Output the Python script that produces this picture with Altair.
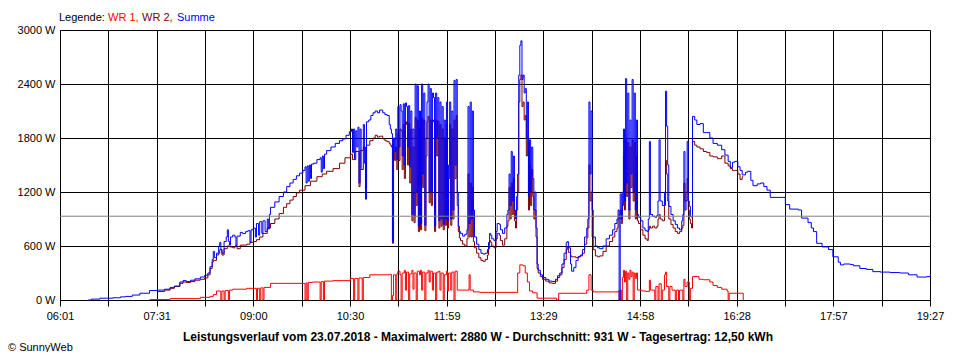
import altair as alt
import pandas as pd

FONT = "Liberation Sans"

# ---------------- data ----------------
series_names = ["WR 1", "WR 2", "Summe"]
series_colors = ["#ff0000", "#800000", "#0000ff"]

summe_points = [
    ("06:27", 0), ("06:30", 10), ("06:38", 20), ("06:50", 25), ("06:57", 35), ("07:02", 40),
    ("07:08", 55), ("07:15", 75), ("07:24", 105), ("07:31", 110), ("07:38", 120), ("07:43", 140),
    ("07:47", 155), ("07:52", 200), ("07:55", 215), ("07:58", 205), ("08:02", 220), ("08:06", 235),
    ("08:11", 255), ("08:15", 275), ("08:18", 300), ("08:20", 370), ("08:22", 450), ("08:23", 540),
    ("08:24", 470), ("08:26", 520), ("08:28", 600), ("08:29", 640), ("08:30", 560), ("08:31", 520),
    ("08:33", 650), ("08:35", 700), ("08:36", 780), ("08:37", 650), ("08:38", 610), ("08:39", 700),
    ("08:41", 720), ("08:43", 700), ("08:44", 600), ("08:45", 710), ("08:48", 750), ("08:50", 740),
    ("08:53", 760), ("08:55", 770), ("08:57", 640), ("08:58", 780), ("09:00", 800), ("09:02", 700),
    ("09:03", 850), ("09:05", 720), ("09:06", 870), ("09:08", 740), ("09:09", 880), ("09:11", 760),
    ("09:13", 900), ("09:14", 790), ("09:15", 950), ("09:16", 1030), ("09:20", 1090), ("09:24", 1150),
    ("09:28", 1200), ("09:31", 1260), ("09:34", 1300), ("09:37", 1340), ("09:40", 1380), ("09:43", 1410),
    ("09:46", 1440), ("09:48", 1480), ("09:49", 1300), ("09:50", 1490), ("09:51", 1320), ("09:52", 1500),
    ("09:53", 1350), ("09:54", 1510), ("09:56", 1520), ("09:59", 1560), ("10:02", 1580), ("10:03", 1420),
    ("10:04", 1600), ("10:05", 1460), ("10:06", 1620), ("10:08", 1660), ("10:12", 1700), ("10:16", 1740),
    ("10:20", 1770), ("10:23", 1790), ("10:26", 1830), ("10:29", 1870), ("10:31", 1900), ("10:32", 1640),
    ("10:33", 1900), ("10:34", 1560), ("10:35", 1880), ("10:36", 1700), ("10:37", 1920), ("10:38", 1300),
    ("10:39", 1900), ("10:40", 1450), ("10:42", 1950), ("10:43", 1520), ("10:44", 1120), ("10:45", 1980),
    ("10:47", 2000), ("10:49", 2050), ("10:51", 2080), ("10:53", 2100), ("10:55", 2080), ("10:57", 2110),
    ("11:00", 2080), ("11:02", 2060), ("11:04", 2050), ("11:06", 1950), ("11:07", 1900), ("11:08", 1850),
    ("11:09", 650), ("11:10", 1800), ("11:11", 1650), ("11:12", 1900), ("11:13", 1560), ("11:14", 2150),
    ("11:15", 1700), ("11:16", 2170), ("11:17", 2100), ("11:18", 1600), ("11:19", 2180), ("11:20", 1500),
    ("11:21", 2190), ("11:22", 2150), ("11:23", 1700), ("11:24", 2160), ("11:25", 1480), ("11:26", 2100),
    ("11:27", 950), ("11:28", 1900), ("11:29", 930), ("11:30", 2400), ("11:31", 1200), ("11:32", 2380),
    ("11:33", 820), ("11:34", 2100), ("11:35", 850), ("11:36", 2400), ("11:37", 1400), ("11:38", 2300),
    ("11:39", 830), ("11:40", 1800), ("11:41", 2200), ("11:42", 2400), ("11:43", 1200), ("11:44", 2350),
    ("11:45", 1190), ("11:46", 2300), ("11:47", 2250), ("11:48", 820), ("11:49", 2300), ("11:50", 1800),
    ("11:51", 2250), ("11:52", 880), ("11:53", 2200), ("11:54", 900), ("11:55", 2150), ("11:56", 840),
    ("11:57", 2000), ("11:58", 900), ("11:59", 2200), ("12:00", 880), ("12:01", 1500), ("12:02", 2200),
    ("12:03", 900), ("12:04", 2100), ("12:05", 1000), ("12:06", 2440), ("12:07", 1500), ("12:08", 2450),
    ("12:09", 1200), ("12:10", 820), ("12:11", 760), ("12:12", 740), ("12:14", 710), ("12:16", 730),
    ("12:18", 780), ("12:19", 2150), ("12:20", 850), ("12:21", 2200), ("12:22", 900), ("12:23", 2100),
    ("12:24", 1000), ("12:25", 700), ("12:27", 620), ("12:29", 560), ("12:31", 520), ("12:33", 510),
    ("12:35", 520), ("12:37", 560), ("12:38", 640), ("12:39", 740), ("12:40", 720), ("12:41", 680),
    ("12:43", 660), ("12:45", 760), ("12:46", 850), ("12:48", 840), ("12:49", 780), ("12:51", 740),
    ("12:53", 800), ("12:55", 950), ("12:56", 1000), ("12:57", 1400), ("12:58", 1050), ("12:59", 1650),
    ("13:00", 1100), ("13:01", 1600), ("13:02", 1000), ("13:03", 900), ("13:04", 1150), ("13:05", 1400),
    ("13:06", 2500), ("13:07", 2830), ("13:08", 2880), ("13:09", 2450), ("13:10", 2500), ("13:11", 2300),
    ("13:12", 2350), ("13:13", 1800), ("13:14", 2200), ("13:15", 1150), ("13:16", 1780), ("13:17", 1200),
    ("13:18", 1700), ("13:19", 1350), ("13:20", 1000), ("13:21", 1200), ("13:22", 800), ("13:23", 400),
    ("13:24", 330), ("13:26", 280), ("13:28", 250), ("13:31", 230), ("13:34", 210), ("13:37", 205),
    ("13:40", 230), ("13:42", 270), ("13:44", 300), ("13:46", 400), ("13:48", 520), ("13:50", 640),
    ("13:51", 650), ("13:52", 580), ("13:54", 400), ("13:55", 320), ("13:57", 360), ("13:59", 440),
    ("14:01", 480), ("14:03", 500), ("14:05", 560), ("14:07", 700), ("14:09", 800), ("14:10", 900),
    ("14:11", 2200), ("14:12", 1400), ("14:13", 2100), ("14:14", 1000), ("14:15", 700), ("14:17", 600),
    ("14:19", 580), ("14:21", 570), ("14:24", 600), ("14:27", 680), ("14:30", 720), ("14:33", 780),
    ("14:35", 850), ("14:37", 900), ("14:38", 1000), ("14:39", 0), ("14:40", 1180), ("14:41", 900),
    ("14:42", 1200), ("14:43", 1900), ("14:44", 1100), ("14:45", 2460), ("14:46", 1300), ("14:47", 2300),
    ("14:48", 1000), ("14:49", 2000), ("14:50", 1400), ("14:51", 2450), ("14:52", 1200), ("14:53", 2300),
    ("14:54", 1000), ("14:55", 2000), ("14:56", 950), ("14:57", 920), ("14:59", 880), ("15:01", 800),
    ("15:03", 770), ("15:05", 760), ("15:06", 900), ("15:07", 1760), ("15:08", 950), ("15:10", 930),
    ("15:12", 920), ("15:14", 940), ("15:15", 1100), ("15:16", 1780), ("15:17", 1100), ("15:19", 1050),
    ("15:21", 1200), ("15:22", 2320), ("15:23", 1930), ("15:24", 1500), ("15:25", 1040), ("15:27", 950),
    ("15:29", 880), ("15:31", 840), ("15:33", 800), ("15:35", 780), ("15:37", 880), ("15:38", 950),
    ("15:39", 1650), ("15:40", 1000), ("15:41", 1100), ("15:42", 1760), ("15:43", 1100), ("15:44", 1040),
    ("15:45", 930), ("15:46", 920), ("15:47", 2040), ("15:49", 2000), ("15:51", 1950), ("15:54", 1960),
    ("15:57", 1860), ("16:00", 1860), ("16:03", 1800), ("16:06", 1740), ("16:10", 1720), ("16:14", 1670),
    ("16:17", 1610), ("16:20", 1540), ("16:22", 1470), ("16:24", 1530), ("16:26", 1540), ("16:29", 1480),
    ("16:31", 1440), ("16:33", 1390), ("16:36", 1420), ("16:38", 1430), ("16:41", 1330), ("16:43", 1270),
    ("16:47", 1290), ("16:50", 1300), ("16:53", 1260), ("16:56", 1220), ("16:59", 1140), ("17:08", 1140),
    ("17:13", 1060), ("17:17", 1010), ("17:25", 1000), ("17:28", 910), ("17:34", 860), ("17:37", 800),
    ("17:39", 760), ("17:42", 630), ("17:47", 590), ("17:53", 560), ("17:57", 480), ("18:02", 420),
    ("18:04", 390), ("18:07", 400), ("18:13", 395), ("18:16", 380), ("18:22", 350), ("18:28", 340),
    ("18:34", 315), ("18:41", 310), ("18:50", 305), ("18:59", 300), ("19:07", 280), ("19:15", 255),
    ("19:24", 260), ("19:27", 265),
]

wr2_points = [
    ("07:31", 95), ("07:38", 110), ("07:43", 130), ("07:47", 150), ("07:52", 185), ("07:55", 200),
    ("07:58", 195), ("08:02", 205), ("08:06", 220), ("08:11", 230), ("08:15", 245), ("08:18", 280),
    ("08:20", 350), ("08:22", 420), ("08:23", 440), ("08:26", 500), ("08:28", 520), ("08:29", 560),
    ("08:31", 500), ("08:33", 570), ("08:36", 600), ("08:38", 590), ("08:41", 580), ("08:43", 600),
    ("08:45", 570), ("08:48", 610), ("08:54", 620), ("08:57", 640), ("09:00", 650), ("09:03", 670),
    ("09:06", 700), ("09:09", 740), ("09:13", 800), ("09:16", 850), ("09:20", 900), ("09:24", 960),
    ("09:28", 1030), ("09:31", 1070), ("09:34", 1110), ("09:37", 1150), ("09:40", 1190), ("09:43", 1220),
    ("09:48", 1270), ("09:53", 1320), ("09:59", 1370), ("10:04", 1400), ("10:08", 1430), ("10:14", 1460),
    ("10:20", 1520), ("10:25", 1580), ("10:30", 1620), ("10:32", 1560), ("10:34", 1650), ("10:38", 1260),
    ("10:39", 1660), ("10:42", 1700), ("10:44", 1240), ("10:45", 1720), ("10:48", 1770), ("10:51", 1800),
    ("10:53", 1830), ("10:55", 1810), ("10:57", 1820), ("11:00", 1790), ("11:02", 1770), ("11:04", 1760),
    ("11:06", 1740), ("11:07", 1720), ("11:08", 1700), ("11:09", 630), ("11:10", 1650), ("11:11", 1550),
    ("11:12", 1700), ("11:13", 1450), ("11:14", 1850), ("11:15", 1550), ("11:16", 1900), ("11:17", 1880),
    ("11:18", 1450), ("11:19", 1950), ("11:20", 1350), ("11:21", 1980), ("11:22", 1950), ("11:23", 1500),
    ("11:24", 1960), ("11:25", 1300), ("11:26", 1900), ("11:27", 880), ("11:28", 1700), ("11:29", 860),
    ("11:30", 2030), ("11:31", 1050), ("11:32", 2000), ("11:33", 760), ("11:34", 1900), ("11:35", 780),
    ("11:36", 2020), ("11:37", 1250), ("11:38", 2000), ("11:39", 770), ("11:40", 1600), ("11:41", 1980),
    ("11:42", 2040), ("11:43", 1080), ("11:44", 2000), ("11:45", 1050), ("11:46", 2000), ("11:47", 1980),
    ("11:48", 760), ("11:49", 2000), ("11:50", 1600), ("11:51", 1990), ("11:52", 800), ("11:53", 1950),
    ("11:54", 820), ("11:55", 1900), ("11:56", 780), ("11:57", 1800), ("11:58", 830), ("11:59", 1950),
    ("12:00", 800), ("12:01", 1350), ("12:02", 1950), ("12:03", 830), ("12:04", 1900), ("12:05", 900),
    ("12:06", 2000), ("12:07", 1350), ("12:08", 2050), ("12:09", 1050), ("12:10", 760), ("12:11", 690),
    ("12:12", 660), ("12:14", 620), ("12:16", 600), ("12:18", 680), ("12:19", 1400), ("12:20", 700),
    ("12:21", 1300), ("12:22", 700), ("12:23", 1250), ("12:24", 650), ("12:25", 580), ("12:27", 520),
    ("12:29", 470), ("12:31", 440), ("12:33", 430), ("12:35", 450), ("12:37", 500), ("12:38", 570),
    ("12:39", 660), ("12:40", 640), ("12:41", 600), ("12:43", 580), ("12:45", 680), ("12:46", 740),
    ("12:48", 720), ("12:49", 660), ("12:51", 610), ("12:53", 680), ("12:55", 820), ("12:56", 880),
    ("12:57", 1250), ("12:58", 900), ("12:59", 1300), ("13:00", 950), ("13:01", 1350), ("13:02", 880),
    ("13:03", 800), ("13:04", 1000), ("13:05", 1200), ("13:06", 2200), ("13:07", 2450), ("13:08", 2500),
    ("13:09", 2150), ("13:10", 2200), ("13:11", 2000), ("13:12", 2050), ("13:13", 1600), ("13:14", 1800),
    ("13:15", 1000), ("13:16", 1500), ("13:17", 1050), ("13:18", 1450), ("13:19", 1150), ("13:20", 900),
    ("13:21", 1000), ("13:22", 700), ("13:23", 350), ("13:24", 300), ("13:26", 260), ("13:28", 230),
    ("13:31", 210), ("13:34", 190), ("13:37", 185), ("13:40", 210), ("13:42", 250), ("13:44", 280),
    ("13:46", 360), ("13:48", 450), ("13:50", 560), ("13:51", 590), ("13:52", 530), ("13:54", 490),
    ("13:55", 480), ("13:57", 480), ("13:59", 470), ("14:01", 480), ("14:03", 490), ("14:05", 520),
    ("14:07", 620), ("14:09", 690), ("14:10", 800), ("14:11", 1500), ("14:12", 1100), ("14:13", 1200),
    ("14:14", 700), ("14:15", 560), ("14:17", 490), ("14:19", 480), ("14:21", 490), ("14:24", 540),
    ("14:27", 600), ("14:30", 650), ("14:33", 700), ("14:35", 760), ("14:37", 800), ("14:38", 900),
    ("14:39", 950), ("14:40", 1000), ("14:41", 850), ("14:42", 1050), ("14:43", 1600), ("14:44", 1000),
    ("14:45", 1780), ("14:46", 1150), ("14:47", 1750), ("14:48", 900), ("14:49", 1700), ("14:50", 1250),
    ("14:51", 1780), ("14:52", 1100), ("14:53", 1750), ("14:54", 900), ("14:55", 1600), ("14:56", 880),
    ("14:57", 850), ("14:59", 780), ("15:01", 720), ("15:03", 680), ("15:05", 660), ("15:06", 780),
    ("15:07", 820), ("15:08", 800), ("15:10", 820), ("15:12", 800), ("15:14", 820), ("15:15", 900),
    ("15:16", 950), ("15:17", 900), ("15:19", 880), ("15:21", 1050), ("15:22", 1550), ("15:23", 1400),
    ("15:24", 1100), ("15:25", 900), ("15:27", 840), ("15:29", 800), ("15:31", 760), ("15:33", 740),
    ("15:35", 760), ("15:37", 800), ("15:38", 830), ("15:39", 1300), ("15:40", 1100), ("15:41", 1200),
    ("15:42", 1350), ("15:43", 1000), ("15:44", 900), ("15:45", 850), ("15:46", 800), ("15:47", 1760),
    ("15:49", 1720), ("15:51", 1700), ("15:54", 1680), ("15:57", 1650), ("16:00", 1640), ("16:03", 1600),
    ("16:06", 1590), ("16:10", 1570), ("16:14", 1600), ("16:17", 1520), ("16:20", 1490), ("16:22", 1460),
    ("16:24", 1440), ("16:26", 1440), ("16:29", 1400), ("16:31", 1340), ("16:33", 1370), ("16:34", 1370),
]

wr1_points = [
    ("07:24", 5), ("07:43", 15), ("08:11", 30), ("08:20", 40), ("08:23", 60), ("08:26", 100),
    ("08:30", 0), ("08:31", 100), ("08:33", 0), ("08:34", 105), ("08:37", 0), ("08:38", 110),
    ("08:41", 120), ("08:54", 130), ("09:03", 0), ("09:04", 130), ("09:06", 0), ("09:07", 135),
    ("09:09", 0), ("09:10", 140), ("09:16", 185), ("09:48", 0), ("09:49", 190), ("09:50", 0),
    ("09:51", 195), ("09:55", 200), ("10:02", 0), ("10:03", 205), ("10:05", 0), ("10:06", 210),
    ("10:14", 215), ("10:30", 240), ("10:33", 0), ("10:34", 240), ("10:37", 0), ("10:38", 245),
    ("10:41", 0), ("10:42", 250), ("10:48", 280), ("11:06", 285), ("11:08", 0), ("11:09", 50),
    ("11:10", 280), ("11:12", 0), ("11:13", 290), ("11:14", 320), ("11:16", 280), ("11:17", 0),
    ("11:18", 300), ("11:20", 330), ("11:21", 110), ("11:22", 310), ("11:24", 0), ("11:25", 290),
    ("11:27", 330), ("11:28", 120), ("11:29", 300), ("11:31", 0), ("11:32", 320), ("11:34", 280),
    ("11:35", 330), ("11:36", 110), ("11:37", 310), ("11:39", 0), ("11:40", 300), ("11:42", 330),
    ("11:43", 200), ("11:44", 320), ("11:46", 110), ("11:47", 300), ("11:49", 0), ("11:50", 310),
    ("11:52", 320), ("11:53", 110), ("11:54", 300), ("11:56", 0), ("11:57", 280), ("11:59", 320),
    ("12:00", 100), ("12:01", 300), ("12:03", 110), ("12:04", 310), ("12:06", 0), ("12:07", 320),
    ("12:09", 110), ("12:20", 280), ("12:21", 110), ("12:24", 90), ("12:30", 85), ("13:04", 80),
    ("13:05", 300), ("13:07", 390), ("13:10", 380), ("13:12", 300), ("13:14", 200), ("13:16", 100),
    ("13:19", 80), ("13:23", 20), ("13:41", 0), ("13:43", 75), ("14:09", 110), ("14:11", 280),
    ("14:13", 110), ("14:15", 90), ("14:38", 100), ("14:39", 0), ("14:40", 110), ("14:41", 0),
    ("14:42", 250), ("14:43", 330), ("14:44", 200), ("14:45", 320), ("14:46", 0), ("14:47", 300),
    ("14:48", 230), ("14:49", 330), ("14:50", 260), ("14:51", 310), ("14:52", 0), ("14:53", 300),
    ("14:54", 240), ("14:55", 300), ("14:56", 110), ("15:00", 100), ("15:04", 95), ("15:07", 220),
    ("15:08", 110), ("15:12", 0), ("15:13", 150), ("15:15", 0), ("15:16", 180), ("15:18", 0),
    ("15:19", 110), ("15:21", 280), ("15:22", 310), ("15:23", 150), ("15:25", 0), ("15:26", 150),
    ("15:28", 110), ("15:31", 0), ("15:32", 110), ("15:34", 0), ("15:35", 110), ("15:38", 0),
    ("15:39", 230), ("15:40", 150), ("15:42", 200), ("15:44", 0), ("15:45", 130), ("15:47", 260),
    ("15:53", 230), ("15:57", 225), ("16:03", 200), ("16:06", 160), ("16:10", 140), ("16:14", 120),
    ("16:19", 100), ("16:20", 0), ("16:21", 75), ("16:33", 75), ("16:34", 0),
]

average_w = 931
y_ticks = [0, 600, 1200, 1800, 2400, 3000]
x_tick_labels = ["06:01", "07:31", "09:00", "10:30", "11:59", "13:29", "14:58", "16:28", "17:57", "19:27"]
legend_parts = ["Legende:", "WR 1,", "WR 2,", "Summe"]
title_text = ("Leistungsverlauf vom 23.07.2018 - Maximalwert: 2880 W - Durchschnitt: 931 W"
              " - Tagesertrag: 12,50 kWh")
credit_text = "\u00a9 SunnyWeb"


def to_min(s):
    h, m = s.split(":")
    return int(h) * 60 + int(m)


def frame(points, name):
    return pd.DataFrame({
        "t": [to_min(s) for s, _ in points],
        "W": [w for _, w in points],
        "series": name,
    })


x_start = to_min(x_tick_labels[0])
x_end = to_min(x_tick_labels[-1])
n_grid = 2 * (len(x_tick_labels) - 1)
step = (x_end - x_start) / n_grid
grid_vals = [x_start + k * step for k in range(n_grid + 1)]
label_arr = []
for i, lab in enumerate(x_tick_labels):
    label_arr.append("'" + lab + "'")
    if i < len(x_tick_labels) - 1:
        label_arr.append("''")
label_expr = "[" + ",".join(label_arr) + "][round((datum.value-%d)/%.6f)]" % (x_start, step)

x_enc = alt.X(
    "t:Q",
    scale=alt.Scale(domain=[x_start, x_end], nice=False, zero=False),
    axis=alt.Axis(values=grid_vals, labelExpr=label_expr, title=None, grid=True,
                  gridColor="#000000", gridOpacity=1, gridWidth=1,
                  tickColor="#000000", tickSize=6, tickWidth=1,
                  domainColor="#000000", domainWidth=1,
                  labelFont=FONT, labelFontSize=11, labelColor="#000000",
                  labelPadding=4, labelFlush=False, labelOverlap=False),
)
y_enc = alt.Y(
    "W:Q",
    scale=alt.Scale(domain=[0, 3000], nice=False),
    axis=alt.Axis(values=y_ticks, labelExpr="datum.value + ' W'", title=None, grid=True,
                  gridColor="#000000", gridOpacity=1, gridWidth=1, ticks=False,
                  domainColor="#000000", domainWidth=1,
                  labelFont=FONT, labelFontSize=11, labelColor="#000000",
                  labelPadding=5, labelOverlap=False),
)


def line(points, idx):
    return alt.Chart(frame(points, series_names[idx])).mark_line(
        color=series_colors[idx], strokeWidth=1, interpolate="step-after"
    ).encode(x=x_enc, y=y_enc)


one = pd.DataFrame({"k": [0]})

avg_rule = alt.Chart(one).mark_rule(color="#808080", strokeWidth=1).encode(y=alt.datum(average_w))


def txt(text, x, y, color="#000000", bold=False, align="left", size=11):
    return alt.Chart(one).mark_text(
        text=text, align=align, baseline="alphabetic", font=FONT, fontSize=size,
        fontWeight="bold" if bold else "normal", color=color,
    ).encode(x=alt.value(x), y=alt.value(y))


legend_x = [-1, 48, 82, 117]
legend_cols = ["#000000"] + series_colors
texts = [txt(p, lx, -9, c) for p, lx, c in zip(legend_parts, legend_x, legend_cols)]
texts.append(txt(title_text, 418, 311, bold=True, align="center", size=12))
texts.append(txt(credit_text, -52, 321))

chart = alt.layer(
    line(wr1_points, 0),
    line(wr2_points, 1),
    line(summe_points, 2),
    avg_rule,
    *texts,
).properties(
    width=870, height=270,
    autosize=alt.AutoSizeParams(type="none"),
    padding={"left": 52, "top": 22, "right": 22, "bottom": 52},
    background="#ffffff",
).configure_view(stroke=None)

chart.save("out.html", embed_options={"renderer": "svg", "actions": False})
